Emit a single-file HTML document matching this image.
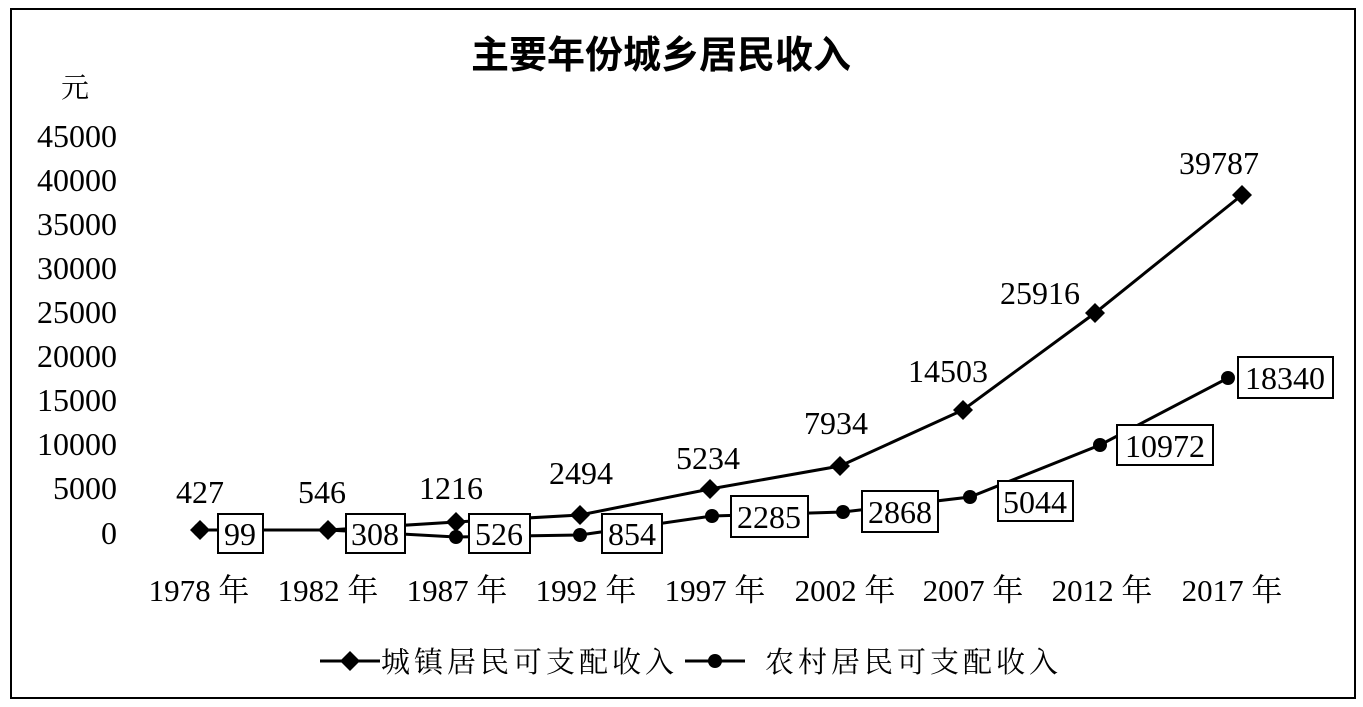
<!DOCTYPE html>
<html><head><meta charset="utf-8"><style>
html,body{margin:0;padding:0;background:#fff;}
svg{display:block;}
text{font-family:"Liberation Serif","Noto Serif CJK SC",serif;fill:#000;}
</style></head><body>
<svg width="1363" height="707" viewBox="0 0 1363 707" xmlns="http://www.w3.org/2000/svg">
<rect x="11" y="9" width="1344" height="689" fill="#fff" stroke="#000" stroke-width="2"/>
<text x="661" y="68" font-size="38" font-weight="bold" text-anchor="middle" style="font-family:'Noto Sans CJK SC',sans-serif">主要年份城乡居民收入</text>
<text x="75" y="97" font-size="28" text-anchor="middle">元</text>
<g font-size="32" text-anchor="end">
<text x="117" y="147">45000</text>
<text x="117" y="191">40000</text>
<text x="117" y="235">35000</text>
<text x="117" y="279">30000</text>
<text x="117" y="323">25000</text>
<text x="117" y="367">20000</text>
<text x="117" y="411">15000</text>
<text x="117" y="455">10000</text>
<text x="117" y="499">5000</text>
<text x="117" y="544">0</text>
</g>
<g font-size="31" text-anchor="middle">
<text x="199" y="601">1978 年</text>
<text x="328" y="601">1982 年</text>
<text x="457" y="601">1987 年</text>
<text x="586" y="601">1992 年</text>
<text x="715" y="601">1997 年</text>
<text x="845" y="601">2002 年</text>
<text x="973" y="601">2007 年</text>
<text x="1102" y="601">2012 年</text>
<text x="1232" y="601">2017 年</text>
</g>
<polyline fill="none" stroke="#000" stroke-width="3" points="200,530 328,530 456,522 580,515 710,489 840,466 963,410 1095,313 1242,195"/>
<polyline fill="none" stroke="#000" stroke-width="3" points="200,530 328,530 456,537 580,535 712,516 843,512 970,497 1100,445 1228,378"/>
<g fill="#000">
<path d="M200,520 l10,10 l-10,10 l-10,-10z"/>
<path d="M328,520 l10,10 l-10,10 l-10,-10z"/>
<path d="M456,512 l10,10 l-10,10 l-10,-10z"/>
<path d="M580,505 l10,10 l-10,10 l-10,-10z"/>
<path d="M710,479 l10,10 l-10,10 l-10,-10z"/>
<path d="M840,456 l10,10 l-10,10 l-10,-10z"/>
<path d="M963,400 l10,10 l-10,10 l-10,-10z"/>
<path d="M1095,303 l10,10 l-10,10 l-10,-10z"/>
<path d="M1242,185 l10,10 l-10,10 l-10,-10z"/>
<circle cx="200" cy="530" r="7"/><circle cx="328" cy="530" r="7"/><circle cx="456" cy="537" r="7"/>
<circle cx="580" cy="535" r="7"/><circle cx="712" cy="516" r="7"/><circle cx="843" cy="512" r="7"/>
<circle cx="970" cy="497" r="7"/><circle cx="1100" cy="445" r="7"/><circle cx="1228" cy="378" r="7"/>
</g>
<g font-size="32" text-anchor="middle">
<text x="200" y="503">427</text>
<text x="322" y="503">546</text>
<text x="451" y="499">1216</text>
<text x="581" y="484">2494</text>
<text x="708" y="469">5234</text>
<text x="836" y="434">7934</text>
<text x="948" y="382">14503</text>
<text x="1040" y="304">25916</text>
<text x="1219" y="174">39787</text>
</g>
<g fill="#fff" stroke="#000" stroke-width="2">
<rect x="218" y="514" width="45" height="39"/>
<rect x="346" y="514" width="59" height="39"/>
<rect x="469" y="514" width="61" height="39"/>
<rect x="602" y="514" width="60" height="39"/>
<rect x="731" y="496" width="77" height="41"/>
<rect x="862" y="491" width="76" height="41"/>
<rect x="998" y="481" width="75" height="40"/>
<rect x="1117" y="425" width="96" height="40"/>
<rect x="1238" y="357" width="95" height="41"/>
</g>
<g font-size="32" text-anchor="middle">
<text x="240" y="545">99</text>
<text x="375" y="545">308</text>
<text x="499" y="545">526</text>
<text x="632" y="545">854</text>
<text x="769" y="528">2285</text>
<text x="900" y="523">2868</text>
<text x="1035" y="513">5044</text>
<text x="1165" y="457">10972</text>
<text x="1285" y="389">18340</text>
</g>
<line x1="320" y1="661" x2="380" y2="661" stroke="#000" stroke-width="3"/>
<path d="M350,651 l10,10 l-10,10 l-10,-10z" fill="#000"/>
<text x="381" y="672" font-size="29" letter-spacing="4">城镇居民可支配收入</text>
<line x1="685" y1="661" x2="745" y2="661" stroke="#000" stroke-width="3"/>
<circle cx="715" cy="661" r="7" fill="#000"/>
<text x="765" y="672" font-size="29" letter-spacing="4">农村居民可支配收入</text>
</svg>
</body></html>
